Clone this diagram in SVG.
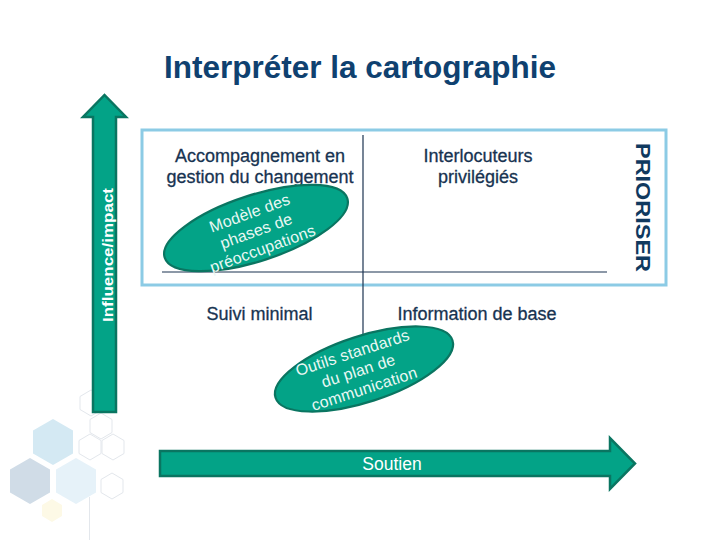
<svg xmlns="http://www.w3.org/2000/svg" width="720" height="540" viewBox="0 0 720 540">
<style>
.lbl{font-family:"Liberation Sans",Arial,sans-serif;font-size:18px;fill:#173351;stroke:#173351;stroke-width:0.3;text-anchor:middle}
.ell{fill:#03a387;stroke:#0a7561;stroke-width:2.2}
.etxt{font-family:"Liberation Sans",Arial,sans-serif;font-size:16px;fill:#eaf8f4;text-anchor:middle;letter-spacing:0.2px}
.arrow{fill:#03a387;stroke:#0a7561;stroke-width:2.5;stroke-linejoin:miter}
.hexo{fill:none;stroke:#e3e7ec;stroke-width:1}
.div{stroke:#1b3350;stroke-width:1.2;fill:none}
</style>
<rect x="0" y="0" width="720" height="540" fill="#ffffff"/>
<g id="decor">
<polygon points="53,419 73,430.5 73,453.5 53,465 33,453.5 33,430.5" fill="#d4e9f3"/>
<polygon points="30,458 50,469.5 50,492.5 30,504 10,492.5 10,469.5" fill="#d0dce7"/>
<polygon points="76,458 96,469.5 96,492.5 76,504 56,492.5 56,469.5" fill="#e6f2f9"/>
<polygon points="52,499 62,505 62,516 52,522 42,516 42,505" fill="#fdf9e6"/>
<polygon class="hexo" points="91,390 102,396.5 102,409.5 91,416 80,409.5 80,396.5"/>
<polygon class="hexo" points="101,413 112,419.5 112,432.5 101,439 90,432.5 90,419.5"/>
<polygon class="hexo" points="90,434 101,440.5 101,453.5 90,460 79,453.5 79,440.5"/>
<polygon class="hexo" points="113,434 124,440.5 124,453.5 113,460 102,453.5 102,440.5"/>
<polygon class="hexo" points="112,473 123,479.5 123,492.5 112,499 101,492.5 101,479.5"/>
<line class="hexo" x1="89.5" y1="497" x2="89.5" y2="540"/>
</g>
<text id="title" x="360" y="78" font-family="'Liberation Sans',Arial,sans-serif" font-size="31.5" font-weight="bold" fill="#0f4170" text-anchor="middle">Interpréter la cartographie</text>
<g id="frame">
<rect x="142" y="130" width="524" height="155" fill="none" stroke="#8ccbe5" stroke-width="3"/>
</g>
<g id="connectors">
<line class="div" x1="363" y1="135" x2="363" y2="402"/>
<line class="div" x1="162" y1="272" x2="607" y2="272"/>
<g id="axis-y">
<polygon class="arrow" points="93,412 116,412 116,117 126,117 104.5,95 83,117 93,117"/>
<text transform="translate(112.5,255) rotate(-90)" font-family="'Liberation Sans',Arial,sans-serif" font-size="15" font-weight="bold" fill="#ffffff" text-anchor="middle" textLength="134" lengthAdjust="spacingAndGlyphs">Influence/impact</text>
</g>
<g id="axis-x">
<polygon class="arrow" points="160,451 610,451 610,438 635,463.5 610,489 610,476 160,476"/>
<text x="392" y="469.5" font-family="'Liberation Sans',Arial,sans-serif" font-size="17.5" fill="#ffffff" text-anchor="middle">Soutien</text>
</g>
</g>
<g id="q-accompagnement">
<text class="lbl" x="260" y="162">Accompagnement en</text>
<text class="lbl" x="260" y="183">gestion du changement</text>
</g>
<g id="q-interlocuteurs">
<text class="lbl" x="478" y="162">Interlocuteurs</text>
<text class="lbl" x="478" y="183">privilégiés</text>
</g>
<g id="q-suivi">
<text class="lbl" x="259.5" y="320">Suivi minimal</text>
</g>
<g id="q-information">
<text class="lbl" x="477" y="320">Information de base</text>
</g>
<g id="ellipse-modele">
<ellipse class="ell" cx="256" cy="228" rx="96" ry="33" transform="rotate(-18 256 228)"/>
<g transform="translate(258,236) rotate(-20)">
<text class="etxt" x="0" y="-19">Modèle des</text>
<text class="etxt" x="0" y="0">phases de</text>
<text class="etxt" x="0" y="19">préoccupations</text>
</g>
</g>
<g id="ellipse-outils">
<ellipse class="ell" cx="364" cy="369" rx="93" ry="33" transform="rotate(-18 364 369)"/>
<g transform="translate(360,376) rotate(-18)">
<text class="etxt" x="0" y="-19">Outils standards</text>
<text class="etxt" x="0" y="0">du plan de</text>
<text class="etxt" x="0" y="19">communication</text>
</g>
</g>
<g id="priority">
<text transform="translate(636,207.5) rotate(90)" font-family="'Liberation Sans',Arial,sans-serif" font-size="20" font-weight="bold" fill="#10395f" text-anchor="middle" textLength="129" lengthAdjust="spacingAndGlyphs">PRIORISER</text>
</g>
</svg>
